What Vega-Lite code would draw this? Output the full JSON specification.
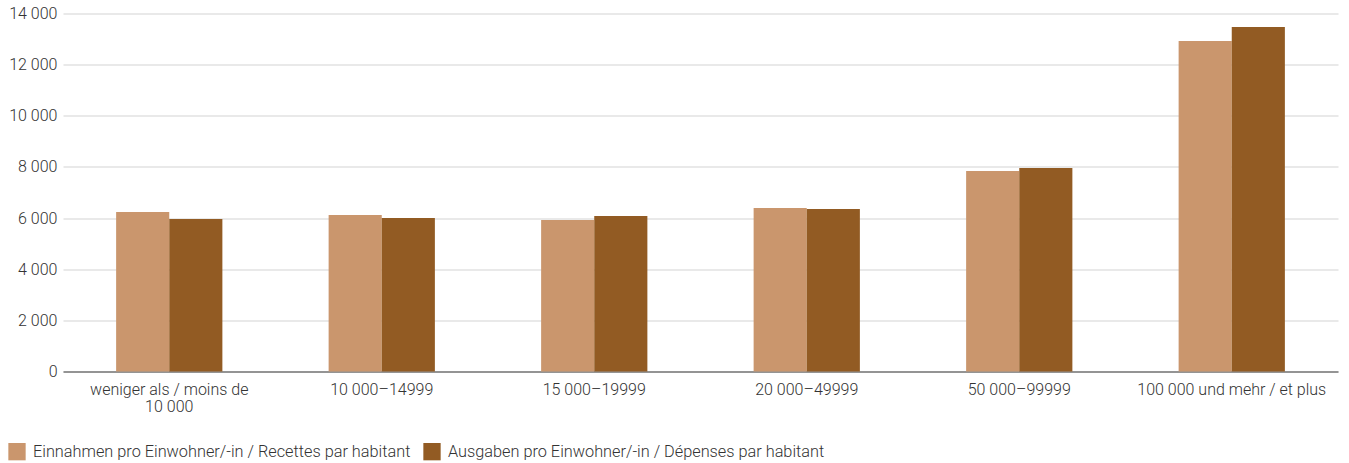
{
  "$schema": "https://vega.github.io/schema/vega-lite/v6.json",
  "width": 1275,
  "height": 358,
  "autosize": {"type": "none"},
  "padding": {"left": 63, "top": 13.5, "right": 11, "bottom": 91.5},
  "background": "white",
  "config": {
    "font": "Roboto",
    "view": {"stroke": null},
    "axis": {"labelFont": "Roboto", "labelColor": "#333333", "labelFontSize": 16, "labelFontWeight": 300, "titleFont": "Roboto"},
    "legend": {"labelFont": "Roboto", "labelColor": "#333333", "labelFontSize": 16.3, "labelFontWeight": 300}
  },
  "data": {
    "values": [
      {"g": "weniger als / moins de|10 000", "s": "Einnahmen pro Einwohner/-in / Recettes par habitant", "v": 6240},
      {"g": "weniger als / moins de|10 000", "s": "Ausgaben pro Einwohner/-in / Dépenses par habitant", "v": 5965},
      {"g": "10 000–14999", "s": "Einnahmen pro Einwohner/-in / Recettes par habitant", "v": 6120},
      {"g": "10 000–14999", "s": "Ausgaben pro Einwohner/-in / Dépenses par habitant", "v": 6005},
      {"g": "15 000–19999", "s": "Einnahmen pro Einwohner/-in / Recettes par habitant", "v": 5925},
      {"g": "15 000–19999", "s": "Ausgaben pro Einwohner/-in / Dépenses par habitant", "v": 6080},
      {"g": "20 000–49999", "s": "Einnahmen pro Einwohner/-in / Recettes par habitant", "v": 6395},
      {"g": "20 000–49999", "s": "Ausgaben pro Einwohner/-in / Dépenses par habitant", "v": 6355},
      {"g": "50 000–99999", "s": "Einnahmen pro Einwohner/-in / Recettes par habitant", "v": 7840},
      {"g": "50 000–99999", "s": "Ausgaben pro Einwohner/-in / Dépenses par habitant", "v": 7960},
      {"g": "100 000 und mehr / et plus", "s": "Einnahmen pro Einwohner/-in / Recettes par habitant", "v": 12925},
      {"g": "100 000 und mehr / et plus", "s": "Ausgaben pro Einwohner/-in / Dépenses par habitant", "v": 13475}
    ]
  },
  "mark": {"type": "bar"},
  "encoding": {
    "x": {
      "field": "g", "type": "nominal", "sort": null,
      "scale": {"paddingInner": 0.5, "paddingOuter": 0.25},
      "axis": {
        "title": null, "labelAngle": 0, "ticks": false, "labelPadding": 10,
        "domainColor": "#777777", "domainWidth": 1.5,
        "labelExpr": "split(datum.value, '|')", "labelLineHeight": 17, "labelLimit": 300
      }
    },
    "xOffset": {"field": "s", "type": "nominal", "sort": null},
    "y": {
      "field": "v", "type": "quantitative",
      "scale": {"domain": [0, 14000], "nice": false},
      "axis": {
        "title": null, "values": [0, 2000, 4000, 6000, 8000, 10000, 12000, 14000],
        "labelExpr": "replace(format(datum.value, ','), ',', ' ')",
        "ticks": false, "labelPadding": 6, "domain": false,
        "gridColor": "#d4d4d4", "gridWidth": 1.2
      }
    },
    "color": {
      "field": "s", "type": "nominal", "sort": null,
      "scale": {"range": ["#CA966D", "#925B23"]},
      "legend": {
        "title": null, "orient": "none", "direction": "horizontal",
        "legendX": -55, "legendY": 429,
        "symbolType": "square", "symbolSize": 300, "symbolStrokeWidth": 0, "symbolOpacity": 1,
        "labelOffset": 7, "columnPadding": 12, "labelLimit": 500
      }
    }
  }
}
